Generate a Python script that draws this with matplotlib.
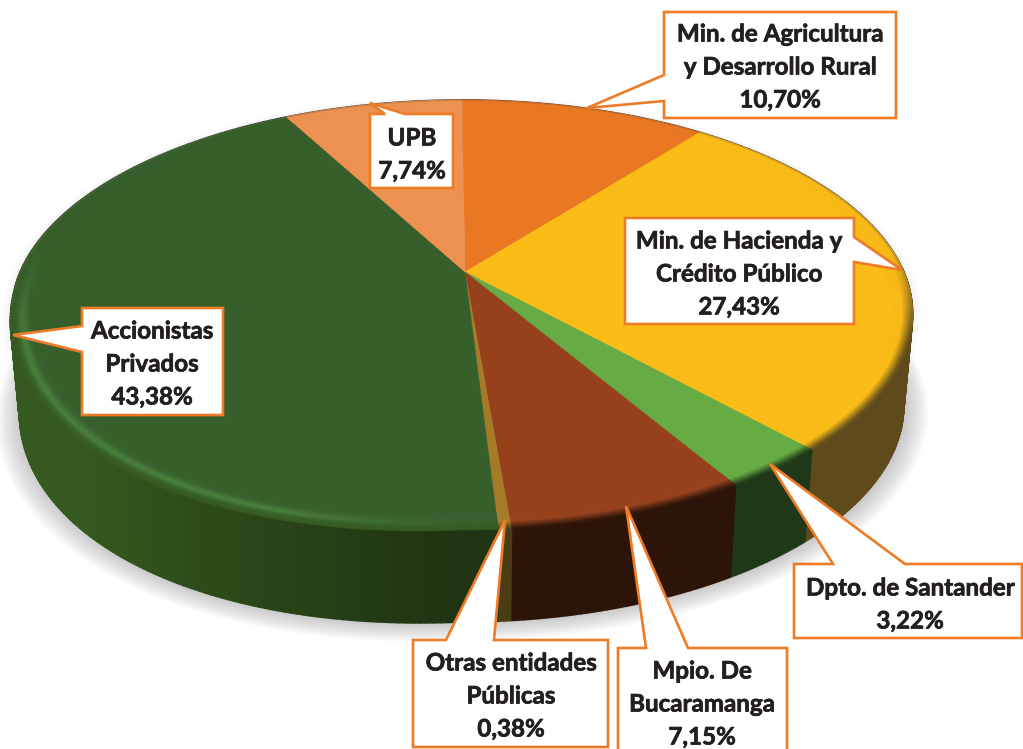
#pie chart of shareholders, drawn as a tilted disc with a side wall and callout boxes
import numpy as np
import matplotlib
matplotlib.use("Agg")
import matplotlib.pyplot as plt
import matplotlib.patheffects as pe
from matplotlib.collections import PolyCollection
from matplotlib.colors import to_rgb

# slices, clockwise from 12 o'clock
names = ["Min. de Agricultura\ny Desarrollo Rural", "Min. de Hacienda y\nCrédito Público",
         "Dpto. de Santander", "Mpio. De\nBucaramanga", "Otras entidades\nPúblicas",
         "Accionistas\nPrivados", "UPB"]
values = [10.70, 27.43, 3.22, 7.15, 0.38, 43.38, 7.74]
top_colors = ["#EA7722", "#FBBC17", "#66AB43", "#97401C", "#A67B27", "#365F2C", "#EC914F"]
wall_colors = ["#7a3d10", "#5E4A1B", "#1F3818", "#2C1508", "#4a3d14", "#35591F", "#7a4a25"]
wall_fade = [0, 0, 0, 0, 0, 1, 0]  # only the big green wall gets lighter towards the left

# callout boxes: left, right, top, bottom, pointer base a, pointer base b, tip
boxes = [
    (664, 896, 12, 118, (664, 75), (664, 101), (587, 108)),
    (625, 854, 218, 324, (854, 237), (854, 262), (902, 270)),
    (794, 1022, 564, 638, (833, 564), (905, 564), (770, 464)),
    (618, 787, 648, 760, (646, 648), (688, 648), (626, 506)),
    (413, 608, 640, 747, (446, 640), (494, 640), (505, 520)),
    (82, 223, 308, 415, (82, 326), (82, 352), (13, 335)),
    (370, 453, 114, 188, (385, 114), (405, 114), (370, 103)),
]
# centre x and y of the first text line in every box
text_pos = [(780, 34), (739, 241), (910, 588), (702, 671), (511, 663), (152, 331), (412, 138)]

# disc geometry in pixels
cx, cy = 465, 272
A, B, K = 442.0, 206.4, 0.20
DEPTH, SHRINK = 92, 0.98


def project(t, r=1.0):
    # t clockwise from the top, simple perspective so the centre sits above the ellipse middle
    u = r * np.sin(t)
    v = r * np.cos(t)
    d = 1 + K * v
    x = cx + A * u / d - 3 * r - 2.5 * np.maximum(0, -v)
    # the lower left of the disc is a bit fuller than a true ellipse
    y = cy - B * v / d + 24 * np.maximum(0, -u) * np.maximum(0, -v)
    return x, y


def project_low(t):
    x, y = project(t)
    return cx + SHRINK * (x - cx), y + DEPTH


def mix(c1, c2, a):
    return tuple((1 - a) * p + a * q for p, q in zip(c1, c2))


fig = plt.figure(figsize=(10.23, 7.49), dpi=100, facecolor="white")
ax = fig.add_axes([0, 0, 1, 1])
ax.set_xlim(0, 1023)
ax.set_ylim(749, 0)
ax.axis("off")

edges = 2 * np.pi * np.concatenate([[0], np.cumsum(values)]) / sum(values)

# soft grey shadow under the wall
tt = np.linspace(0, 2 * np.pi, 361)
for grow in range(24, 0, -2):
    x, y = project_low(tt)
    s = 1 + grow / 450
    ax.fill(cx + s * (x - cx) + 1, y + (y - y.mean()) * (s - 1) + grow * 0.25,
            color="#777777", alpha=0.035, lw=0, zorder=1)
x, y = project(tt)
for grow in range(8, 0, -2):
    s = 1 + grow / 450
    ax.fill(cx + s * (x - cx), cy + s * (y - cy) - grow * 0.1, color="#a8b4c0", alpha=0.03, lw=0, zorder=1)

# side wall
polys, cols, order = [], [], []
for i in range(len(values)):
    n = max(2, int((edges[i + 1] - edges[i]) / np.radians(0.75)))
    ts = np.linspace(edges[i], edges[i + 1], n + 1)
    base = to_rgb(wall_colors[i])
    for a, b in zip(ts[:-1], ts[1:]):
        xa, ya = project(a)
        xb, yb = project(b)
        xc, yc = project_low(b)
        xd, yd = project_low(a)
        m = (a + b) / 2
        shade = 1.0
        if wall_fade[i]:
            shade = 0.58 + 0.42 * np.clip(-np.sin(m) / 0.75, 0, 1)
        polys.append([(xa, ya), (xb, yb), (xc, yc), (xd, yd)])
        cols.append(tuple(c * shade for c in base))
        order.append(np.cos(m))
idx = np.argsort(order)[::-1]
ax.add_collection(PolyCollection([polys[j] for j in idx], facecolors=[cols[j] for j in idx],
                                 edgecolors=[cols[j] for j in idx], linewidths=1.2, zorder=2))

# flat top of every slice, the rim bands go on top of it
RIM = 0.95
for i in range(len(values)):
    ts = np.linspace(edges[i], edges[i + 1], max(3, int(np.degrees(edges[i + 1] - edges[i]))))
    x, y = project(ts, RIM + 0.002)
    ax.fill(np.r_[cx, x], np.r_[cy, y], color=top_colors[i], lw=0.4, zorder=3)

# rounded rim
rings = np.linspace(RIM, 1.0, 13)
polys, cols = [], []
for i in range(len(values)):
    n = max(2, int((edges[i + 1] - edges[i]) / np.radians(0.75)))
    ts = np.linspace(edges[i], edges[i + 1], n + 1)
    top = to_rgb(top_colors[i])
    wall = to_rgb(wall_colors[i])
    for a, b in zip(ts[:-1], ts[1:]):
        m = (a + b) / 2
        su, cv = np.sin(m), np.cos(m)
        front = np.clip((0.1 - cv) / 0.4, 0, 1)
        left = np.clip(-su / 0.35, 0, 1) * front
        for r0, r1 in zip(rings[:-1], rings[1:]):
            q = ((r0 + r1) / 2 - RIM) / (1 - RIM)
            c = top
            hl = 0.32 * left * np.exp(-((q - 0.5) / 0.22) ** 2)
            c = tuple(min(1, p * (1 + hl)) for p in c)
            dark = np.clip((q - 0.55) / 0.45, 0, 1) * front
            c = mix(c, wall, dark)
            if q > 0.9:
                c = mix(c, (0.45, 0.38, 0.32), 0.3 * (1 - front))
            xa, ya = project(a, r0)
            xb, yb = project(b, r0)
            xc, yc = project(b, r1)
            xd, yd = project(a, r1)
            polys.append([(xa, ya), (xb, yb), (xc, yc), (xd, yd)])
            cols.append(c)
ax.add_collection(PolyCollection(polys, facecolors=cols, edgecolors=cols, linewidths=0.5, zorder=4))

# callouts
for i, (l, r, t, b, p, q, tip) in enumerate(boxes):
    if p[1] == q[1] and p[1] == t:
        pts = [(l, t), p, tip, q, (r, t), (r, b), (l, b)]
    elif p[0] == l:
        pts = [(l, t), (r, t), (r, b), (l, b), q, tip, p]
    else:
        pts = [(l, t), (r, t), p, tip, q, (r, b), (l, b)]
    ax.add_patch(plt.Polygon(pts, closed=True, facecolor="white", edgecolor="#EE7B26",
                             linewidth=1.9, joinstyle="miter", zorder=5))
    pct = f"{values[i]:.2f}".replace(".", ",") + "%"
    tx, ty = text_pos[i]
    for k, line in enumerate(names[i].split("\n") + [pct]):
        ax.text(tx, ty + 33 * k, line, ha="center", va="center", family="Lato", weight="bold",
                fontsize=17.4, color="#231F20", zorder=6,
                path_effects=[pe.withStroke(linewidth=0.5, foreground="#231F20")])

fig.savefig("out.png", dpi=100)
